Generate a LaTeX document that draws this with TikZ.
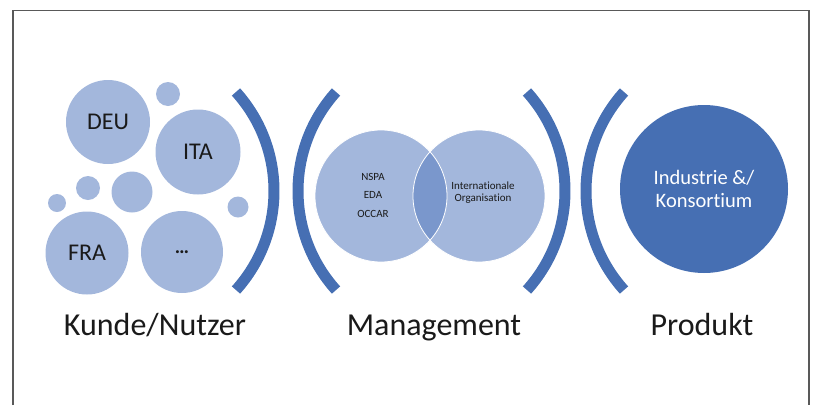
\documentclass[tikz,border=0pt]{standalone}
\usepackage{fontspec}
\setmainfont{Carlito}[Ligatures=NoCommon]
\usetikzlibrary{calc}

\definecolor{bubble}{HTML}{A3B7DC}
\definecolor{deepblue}{HTML}{466FB3}
\definecolor{lensblue}{HTML}{7A97CC}
\definecolor{framegray}{HTML}{595959}
\definecolor{ink}{HTML}{1A1A1A}

\begin{document}
\begin{tikzpicture}[x=1pt,y=-1pt,
  bubble/.style={circle,fill=bubble,draw=none,inner sep=0pt,minimum size=#1,text=ink,
                 font=\fontsize{24}{28}\selectfont},
  bracket/.style={draw=deepblue,line width=11pt,line cap=butt},
  caption/.style={font=\fontsize{32}{38}\selectfont,text=ink,anchor=base,inner sep=0pt},
  smalltext/.style={text=ink,align=center,inner sep=0pt}
]
\useasboundingbox (0,0) rectangle (817,405);

% open frame (no bottom edge)
\draw[framegray,line width=1.5pt] (13,405) -- (13,10.5) -- (809,10.5) -- (809,405);

% --- customer / user cluster ---
\node[bubble=84pt] (deu) at (108,122) {DEU};
\node[bubble=85pt] (ita) at (198,152) {ITA};
\node[bubble=83pt] (fra) at (87,253) {FRA};
\node[bubble=82pt] (more) at (182,252) {\fontsize{20}{24}\selectfont\bfseries …};
\node[bubble=24pt] (s1) at (168,94) {};
\node[bubble=41pt] (s2) at (132,192) {};
\node[bubble=24pt] (s3) at (88,188) {};
\node[bubble=18pt] (s4) at (57,203) {};
\node[bubble=21pt] (s5) at (238,207) {};

% --- brackets ---
\draw[bracket] ($(126,191)+(-42:148)$) arc[start angle=-42,end angle=42,radius=148];
\draw[bracket] ($(446,191)+(138:148)$) arc[start angle=138,end angle=222,radius=148];
\draw[bracket] ($(417,191)+(-42:148)$) arc[start angle=-42,end angle=42,radius=148];
\draw[bracket] ($(734,191)+(138:148)$) arc[start angle=138,end angle=222,radius=148];

% --- management: two overlapping circles ---
\node[bubble=132pt] (nat) at (381,196) {};
\node[bubble=132pt] (intl) at (479,196) {};
\begin{scope}
  \clip (nat.center) circle[radius=66];
  \fill[lensblue] (intl.center) circle[radius=66];
\end{scope}
\draw[white,line width=0.8pt] (nat.center) circle[radius=66];
\draw[white,line width=0.8pt] (intl.center) circle[radius=66];
\node[smalltext,font=\fontsize{11}{18.5}\selectfont] (agencies) at (373,195) {NSPA\\EDA\\OCCAR};
\node[smalltext,font=\fontsize{11}{12}\selectfont] (orgtext) at (483,193) {Internationale\\Organisation};

% --- product ---
\node[circle,fill=deepblue,minimum size=168pt,inner sep=0pt,text=white,align=center,
      font=\fontsize{20.5}{23.5}\selectfont] (prod) at (704,189) {Industrie \&/\\Konsortium};

% --- captions ---
\node[caption] (kunde) at (155,335) {Kunde/Nutzer};
\node[caption] (mgmt) at (434,335) {Management};
\node[caption] (produkt) at (702,335) {Produkt};
\end{tikzpicture}
\end{document}
